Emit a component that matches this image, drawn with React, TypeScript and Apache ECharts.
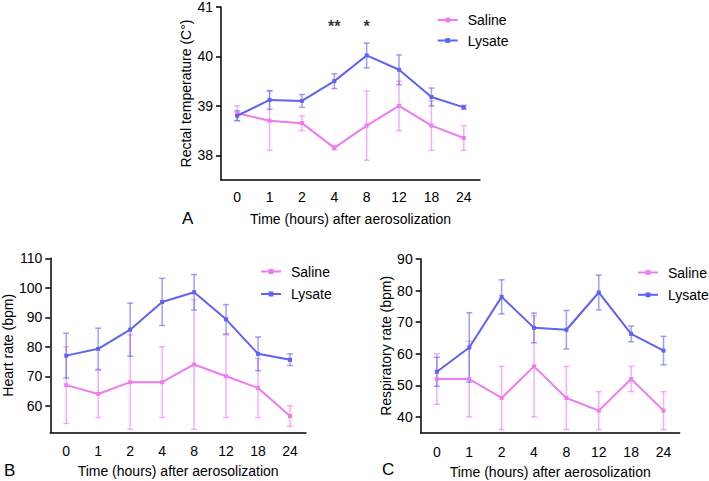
import React, { useEffect, useRef } from "react";
import * as echarts from "echarts";

const categories = ["0", "1", "2", "4", "8", "12", "18", "24"];

const tempSalineMean = [38.85, 38.7, 38.65, 38.15, 38.6, 39.0, 38.6, 38.35];
const tempSalineErr = [0.15, 0.6, 0.15, 0.04, 0.7, 0.5, 0.5, 0.25];
const tempLysateMean = [38.8, 39.12, 39.1, 39.5, 40.02, 39.73, 39.18, 38.97];
const tempLysateErr = [0.1, 0.19, 0.13, 0.15, 0.25, 0.3, 0.18, 0.04];

const hrSalineMean = [67, 64, 68, 68, 74, 70, 66, 56.5];
const hrSalineErr = [13, 8, 16, 12, 22, 14, 10, 3.5];
const hrLysateMean = [77, 79.3, 85.8, 95.2, 98.5, 89.3, 77.6, 75.6];
const hrLysateErr = [7.6, 7, 9, 8, 6, 5, 5.7, 2];

const rrSalineMean = [52, 52, 46, 56, 46, 42, 52, 42];
const rrSalineErr = [8, 12, 10, 16, 10, 6, 4, 6];
const rrLysateMean = [54.3, 62, 78, 68.2, 67.6, 79.4, 66.3, 61];
const rrLysateErr = [4.6, 11, 5.4, 4.7, 6.1, 5.5, 2.5, 4.5];

const tempTicks = [38, 39, 40, 41];
const hrTicks = [60, 70, 80, 90, 100, 110];
const rrTicks = [40, 50, 60, 70, 80, 90];

const stars = [
  { cat: 3, value: 40.6, text: "**" },
  { cat: 4, value: 40.6, text: "*" },
];

const PINK = "#f07af0";
const PINK_ERR = "rgba(240,122,240,0.6)";
const BLUE = "#5f62f2";
const BLUE_ERR = "rgba(95,98,242,0.6)";
const FONT = "Liberation Sans, Arial, sans-serif";
const FS = 14;

function errSeries(idx: number, name: string, mean: number[], err: number[], color: string) {
  return {
    type: "custom",
    name,
    xAxisIndex: idx,
    yAxisIndex: idx,
    z: 1,
    data: mean.map((m, i) => [i, m - err[i], m + err[i]]),
    encode: { x: 0, y: [1, 2] },
    renderItem: (params: any, api: any) => {
      const x = api.value(0);
      const lo = api.coord([x, api.value(1)]);
      const hi = api.coord([x, api.value(2)]);
      const cap = 3;
      const style = { stroke: color, lineWidth: 1.5 };
      return {
        type: "group",
        children: [
          { type: "line", shape: { x1: lo[0], y1: lo[1], x2: hi[0], y2: hi[1] }, style },
          { type: "line", shape: { x1: lo[0] - cap, y1: lo[1], x2: lo[0] + cap, y2: lo[1] }, style },
          { type: "line", shape: { x1: hi[0] - cap, y1: hi[1], x2: hi[0] + cap, y2: hi[1] }, style },
        ],
      };
    },
  };
}

function lineSeries(idx: number, name: string, mean: number[], color: string) {
  return {
    type: "line",
    name,
    xAxisIndex: idx,
    yAxisIndex: idx,
    z: 3,
    data: mean,
    symbol: "rect",
    symbolSize: 4,
    lineStyle: { color, width: 2 },
    itemStyle: { color },
  };
}

function xAxis(idx: number, margin: number) {
  return {
    type: "category",
    gridIndex: idx,
    data: categories,
    boundaryGap: true,
    axisLine: { lineStyle: { color: "#000", width: 1.5 } },
    axisTick: { alignWithLabel: true, length: 5, lineStyle: { color: "#000", width: 1.5 } },
    axisLabel: { color: "#000", fontSize: FS, fontFamily: FONT, margin },
    name: "Time (hours) after aerosolization",
    nameLocation: "middle",
    nameGap: 32,
    nameTextStyle: { color: "#000", fontSize: FS, fontFamily: FONT },
  };
}

function yAxis(idx: number, min: number, max: number, ticks: number[], name: string, gap: number) {
  return {
    type: "value",
    gridIndex: idx,
    min,
    max,
    splitLine: { show: false },
    axisLine: { show: true, lineStyle: { color: "#000", width: 1.5 } },
    axisTick: { show: true, length: 5, customValues: ticks, lineStyle: { color: "#000", width: 1.5 } },
    axisLabel: { color: "#000", fontSize: FS, fontFamily: FONT, margin: 8, customValues: ticks },
    name,
    nameLocation: "middle",
    nameGap: gap,
    nameTextStyle: { color: "#000", fontSize: FS, fontFamily: FONT },
  };
}

function legend(left: number, top: number, gap: number) {
  return {
    left,
    top,
    padding: 0,
    orient: "vertical",
    itemWidth: 20,
    itemHeight: 6,
    itemGap: gap,
    data: ["Saline", "Lysate"],
    textStyle: { color: "#000", fontSize: FS, fontFamily: FONT, padding: [0, 0, 0, 5] },
  };
}

export default function App() {
  const ref = useRef<HTMLDivElement>(null);
  useEffect(() => {
    if (!ref.current) return;
    const chart = echarts.init(ref.current, undefined, { renderer: "svg" });
    chart.setOption({
      animation: false,
      backgroundColor: "#fff",
      grid: [
        { left: 221, top: 5.7, width: 259, height: 174.3 },
        { left: 44.7, top: 258.3, width: 261.3, height: 174 },
        { left: 420.7, top: 259, width: 259, height: 173.7 },
      ],
      xAxis: [xAxis(0, 10), xAxis(1, 12), xAxis(2, 12)],
      yAxis: [
        yAxis(0, 37.5, 41, tempTicks, "Rectal temperature (C°)", 28),
        yAxis(1, 51, 110, hrTicks, "Heart rate (bpm)", 29.4),
        yAxis(2, 35, 90, rrTicks, "Respiratory rate (bpm)", 25.4),
      ],
      legend: [legend(436.7, 13, 6.5), legend(260, 264.5, 8.5), legend(637, 265.5, 8.3)],
      series: [
        lineSeries(0, "Saline", tempSalineMean, PINK),
        lineSeries(0, "Lysate", tempLysateMean, BLUE),
        lineSeries(1, "Saline", hrSalineMean, PINK),
        lineSeries(1, "Lysate", hrLysateMean, BLUE),
        lineSeries(2, "Saline", rrSalineMean, PINK),
        lineSeries(2, "Lysate", rrLysateMean, BLUE),
        errSeries(0, "Saline err", tempSalineMean, tempSalineErr, PINK_ERR),
        errSeries(0, "Lysate err", tempLysateMean, tempLysateErr, BLUE_ERR),
        errSeries(1, "Saline err", hrSalineMean, hrSalineErr, PINK_ERR),
        errSeries(1, "Lysate err", hrLysateMean, hrLysateErr, BLUE_ERR),
        errSeries(2, "Saline err", rrSalineMean, rrSalineErr, PINK_ERR),
        errSeries(2, "Lysate err", rrLysateMean, rrLysateErr, BLUE_ERR),
        {
          type: "scatter",
          name: "sig",
          xAxisIndex: 0,
          yAxisIndex: 0,
          symbolSize: 0,
          data: stars.map((s) => ({ value: [s.cat, s.value], label: { formatter: s.text } })),
          label: {
            show: true,
            position: "inside",
            color: "#000",
            fontSize: 16,
            fontWeight: "bold",
            fontFamily: FONT,
          },
        },
      ],
      graphic: [
        { type: "text", left: 182, top: 210, style: { text: "A", fontSize: 17, fontFamily: FONT, fill: "#000" } },
        { type: "text", left: 4, top: 462, style: { text: "B", fontSize: 17, fontFamily: FONT, fill: "#000" } },
        { type: "text", left: 382, top: 461, style: { text: "C", fontSize: 17, fontFamily: FONT, fill: "#000" } },
      ],
    });
    return () => chart.dispose();
  }, []);
  return (
    <div
      ref={ref}
      style={{ position: "fixed", left: 0, top: 0, width: 709, height: 481, background: "#fff" }}
    />
  );
}
